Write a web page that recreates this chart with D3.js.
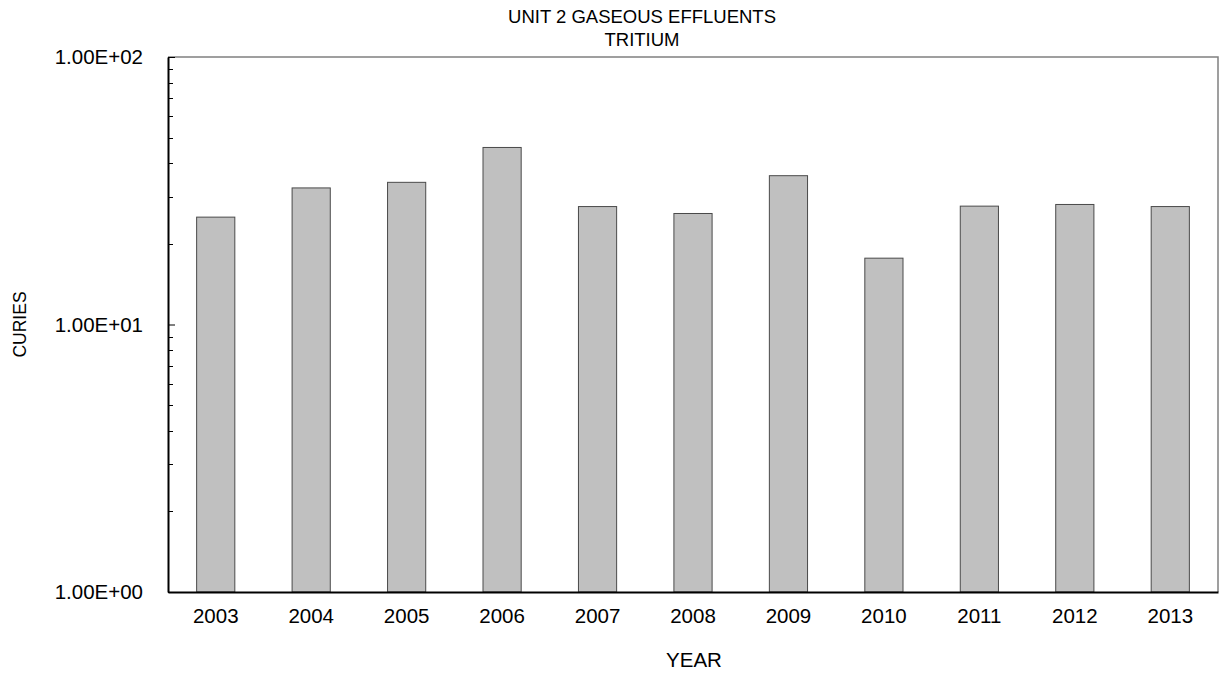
<!DOCTYPE html>
<html>
<head>
<meta charset="utf-8">
<script src="https://cdn.jsdelivr.net/npm/d3@7"></script>
<style>
  body { margin: 0; background: #fff; }
  svg { display: block; font-family: "Liberation Sans", Arial, sans-serif; }
</style>
</head>
<body>
<svg id="chart" width="1221" height="675"></svg>
<script>
const years = ["2003","2004","2005","2006","2007","2008","2009","2010","2011","2012","2013"];
const curies = [25.2, 32.4, 34.0, 45.9, 27.6, 26.0, 36.0, 17.7, 27.7, 28.1, 27.6];
const yTickValues = [1, 10, 100];
const yTickLabels = ["1.00E+00", "1.00E+01", "1.00E+02"];
const titleLines = ["UNIT 2 GASEOUS EFFLUENTS", "TRITIUM"];

const svg = d3.select("#chart");
const m = { left: 168, right: 1218, top: 57, bottom: 592 };

const x = d3.scaleBand().domain(years).range([m.left, m.right]).paddingInner(0.6).paddingOuter(0.3);
const y = d3.scaleLog().domain([1, 100]).range([m.bottom, m.top]);

// frame (top / right)
svg.append("path")
  .attr("d", `M${m.left},${m.top}H${m.right}V${m.bottom}`)
  .attr("fill", "none").attr("stroke", "#808080").attr("stroke-width", 1.5);

// bars
svg.append("g").selectAll("rect").data(years).join("rect")
  .attr("x", d => x(d))
  .attr("width", x.bandwidth())
  .attr("y", (d, i) => y(curies[i]))
  .attr("height", (d, i) => y(1) - y(curies[i]))
  .attr("fill", "#c0c0c0")
  .attr("stroke", "#4a4a4a")
  .attr("stroke-width", 1);

// minor ticks for y
const minor = [];
for (let dec = 1; dec < 100; dec *= 10) for (let k = 2; k <= 9; k++) minor.push(dec * k);
svg.append("g").selectAll("line").data(minor).join("line")
  .attr("x1", m.left).attr("x2", m.left + 5)
  .attr("y1", d => Math.round(y(d)) + 0.5).attr("y2", d => Math.round(y(d)) + 0.5)
  .attr("stroke", "#000").attr("stroke-width", 1);

// y axis
const yAxis = d3.axisLeft(y).tickValues(yTickValues)
  .tickFormat((d, i) => yTickLabels[i]).tickSizeInner(-7).tickSizeOuter(0).tickPadding(25);
const gy = svg.append("g").attr("transform", `translate(${m.left},0)`).call(yAxis);
gy.select(".domain").attr("stroke", "#000").attr("stroke-width", 2);
gy.selectAll(".tick line").attr("stroke", "#000");
gy.selectAll("text").attr("font-size", 20.5).attr("fill", "#000").attr("font-family", "Liberation Sans, Arial, sans-serif");

// x axis
const xAxis = d3.axisBottom(x).tickSize(0).tickPadding(16);
const gx = svg.append("g").attr("transform", `translate(0,${m.bottom})`).call(xAxis);
gx.select(".domain").attr("stroke", "#000").attr("stroke-width", 2);
gx.selectAll("text").attr("font-size", 20.5).attr("fill", "#000").attr("font-family", "Liberation Sans, Arial, sans-serif");

// titles
svg.append("g").selectAll("text").data(titleLines).join("text")
  .attr("x", 642).attr("y", (d, i) => 23 + i * 23)
  .attr("text-anchor", "middle").attr("font-size", 18.5).attr("fill", "#000")
  .text(d => d);

svg.append("text").attr("x", 694).attr("y", 667).attr("text-anchor", "middle")
  .attr("font-size", 20.5).attr("fill", "#000").text("YEAR");

svg.append("text").attr("transform", `translate(26,${(m.top + m.bottom) / 2}) rotate(-90)`)
  .attr("text-anchor", "middle").attr("font-size", 17.5).attr("fill", "#000").text("CURIES");
</script>
</body>
</html>
